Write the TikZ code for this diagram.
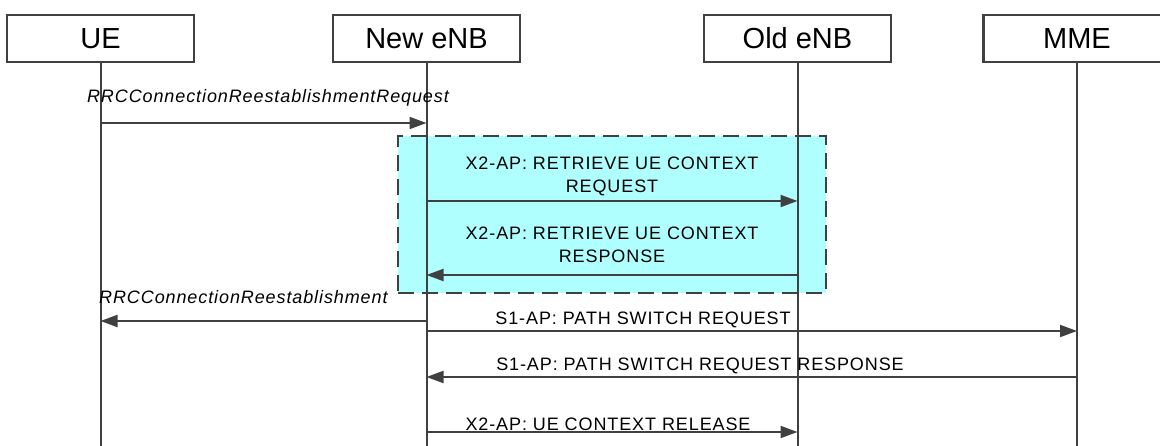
\documentclass[tikz,border=0pt]{standalone}
\usepackage{fontspec}
\setmainfont{Liberation Sans}
\newfontfamily\msgfont[LetterSpace=5]{Liberation Sans}
\usetikzlibrary{arrows.meta}
\definecolor{lgray}{RGB}{64,64,64}
\definecolor{lcyan}{RGB}{176,255,255}
\tikzset{
    % actor boxes and lifelines
    mybox/.style={draw=lgray, line width=2.5pt, minimum width=187pt, minimum height=47pt, inner sep=0pt, fill=white, font=\fontsize{29}{31}\selectfont},
    mylife/.style={draw=lgray, line width=2pt},
    % messages
    myarr/.style={-{Triangle[length=17pt,width=12pt]}, draw=lgray, line width=2pt},
    mylab/.style={inner sep=0pt, align=center, font=\msgfont\fontsize{18}{23}\selectfont},
    % dashed group behind the X2 exchange
    mygrp/.style={draw=lgray, fill=lcyan, dash pattern=on 16pt off 8pt, line width=2.5pt, minimum width=428pt, minimum height=157pt, inner sep=0pt}
}
\begin{document}
\begin{tikzpicture}[x=1pt, y=-1pt]
    \useasboundingbox (0,0) rectangle (1160,446);
 % GROUP
    \node (grp) at (612,214.5) [mygrp] {};
 % ACTORS
    \node (ue) at (100.5,38.5) [mybox] {UE};
    \node (new) at (426.5,38.5) [mybox] {New eNB};
    \node (old) at (797.5,38.5) [mybox] {Old eNB};
    \node (mme) at (1077,38.5) [mybox] {MME};
    \coordinate (bot) at (0,446);
    \foreach \n in {ue,new,old,mme}
        \draw[mylife] (\n.south) -- (\n |- bot);

 % MESSAGE ROWS
    \coordinate (m1) at (0,123);
    \coordinate (m2) at (0,201);
    \coordinate (m3) at (0,275);
    \coordinate (m4) at (0,321);
    \coordinate (m5) at (0,331);
    \coordinate (m6) at (0,377);
    \coordinate (m7) at (0,432);

 % LABELS
    \node (t1) at (268,98) [mylab] {\itshape RRCConnectionReestablishmentRequest};
    \node (t2) at (612,176.5) [mylab] {X2-AP: RETRIEVE UE CONTEXT\\REQUEST};
    \node (t3) at (612,244.5) [mylab] {X2-AP: RETRIEVE UE CONTEXT\\RESPONSE};
    \node (t4) at (99,297) [mylab, anchor=west] {\itshape RRCConnectionReestablishment};
    \node (t5) at (643,320) [mylab] {S1-AP: PATH SWITCH REQUEST};
    \node (t6) at (700,366) [mylab] {S1-AP: PATH SWITCH REQUEST RESPONSE};
    \node (t7) at (608,424) [mylab] {X2-AP: UE CONTEXT RELEASE};

 % ARROWS
    \draw[myarr] (ue |- m1) -- (new |- m1);
    \draw[myarr] (new |- m2) -- (old |- m2);
    \draw[myarr] (old |- m3) -- (new |- m3);
    \draw[myarr] (new |- m4) -- (ue |- m4);
    \draw[myarr] (new |- m5) -- (mme |- m5);
    \draw[myarr] (mme |- m6) -- (new |- m6);
    \draw[myarr] (new |- m7) -- (old |- m7);
\end{tikzpicture}
\end{document}
